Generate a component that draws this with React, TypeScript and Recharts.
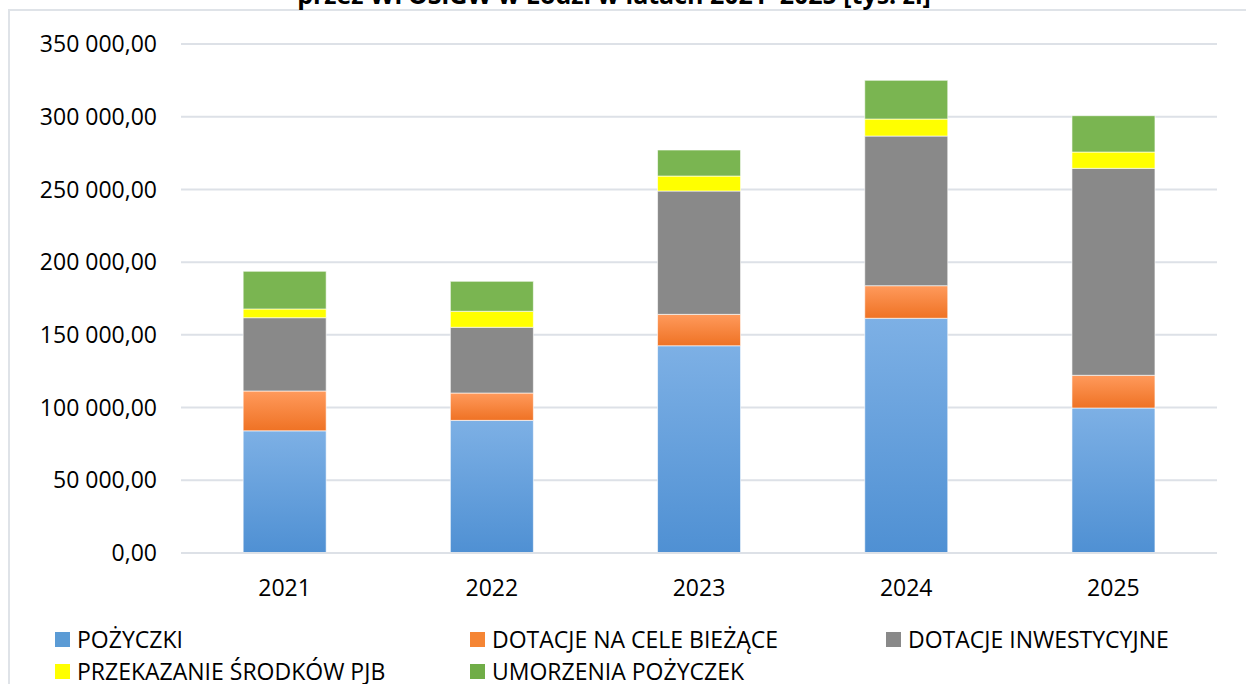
import React from 'react';
import { BarChart, Bar, XAxis, YAxis, CartesianGrid } from 'recharts';

const years = ['2021', '2022', '2023', '2024', '2025'];
const pozyczki = [84000, 91200, 142500, 161400, 99700];
const dotacjeBiezace = [27400, 18800, 21600, 22400, 22500];
const dotacjeInwestycyjne = [50400, 45200, 84800, 102900, 142300];
const przekazaniePjb = [6000, 11000, 10300, 11700, 11200];
const umorzenia = [25900, 20600, 17900, 26600, 25000];
const yTicks = [0, 50000, 100000, 150000, 200000, 250000, 300000, 350000];

const series = [
  { key: 'pozyczki', name: 'POŻYCZKI', fill: 'url(#gBlue)', swatch: '#5b9bd5' },
  { key: 'biezace', name: 'DOTACJE NA CELE BIEŻĄCE', fill: 'url(#gOrange)', swatch: '#f58534' },
  { key: 'inwest', name: 'DOTACJE INWESTYCYJNE', fill: '#898989', swatch: '#898989' },
  { key: 'pjb', name: 'PRZEKAZANIE ŚRODKÓW PJB', fill: '#ffff00', swatch: '#ffff00' },
  { key: 'umorzenia', name: 'UMORZENIA POŻYCZEK', fill: '#7ab551', swatch: '#70ad47' },
];

const data = years.map((year, i) => ({
  year,
  pozyczki: pozyczki[i],
  biezace: dotacjeBiezace[i],
  inwest: dotacjeInwestycyjne[i],
  pjb: przekazaniePjb[i],
  umorzenia: umorzenia[i],
}));

// "350 000,00" style
const fmt = (v: number) => {
  const [int, dec] = v.toFixed(2).split('.');
  return int.replace(/\B(?=(\d{3})+(?!\d))/g, ' ') + ',' + dec;
};

const FONT = '"Open Sans", sans-serif';

export default function App() {
  return (
    <div
      style={{
        position: 'absolute',
        left: 0,
        top: 0,
        width: 1246,
        height: 684,
        overflow: 'hidden',
        background: '#fff',
        fontFamily: FONT,
      }}
    >
      {/* frame of the chart area, cut off at right and bottom */}
      <div
        style={{
          position: 'absolute',
          left: 8,
          top: 9,
          width: 1300,
          height: 700,
          borderLeft: '2px solid #dfe3e8',
          borderTop: '2px solid #dfe3e8',
        }}
      />
      <svg width={1246} height={20} style={{ position: 'absolute', left: 0, top: 0 }}>
        <text x={614} y={4} textAnchor="middle" fontSize={25} fontWeight="bold" fontFamily={FONT} fill="#000">
          przez WFOŚiGW w Łodzi w latach 2021–2025 [tys. zł]
        </text>
      </svg>
      <div style={{ position: 'absolute', left: 0, top: 0 }}>
        <BarChart
          width={1246}
          height={684}
          data={data}
          margin={{ top: 44, right: 29, bottom: 101, left: 0 }}
          barCategoryGap="30%"
        >
          <defs>
            <linearGradient id="gBlue" x1="0" y1="0" x2="0" y2="1">
              <stop offset="0%" stopColor="#7db0e5" />
              <stop offset="100%" stopColor="#4f90d3" />
            </linearGradient>
            <linearGradient id="gOrange" x1="0" y1="0" x2="0" y2="1">
              <stop offset="0%" stopColor="#ff9a5c" />
              <stop offset="100%" stopColor="#ef7224" />
            </linearGradient>
          </defs>
          <CartesianGrid vertical={false} stroke="#dde1e7" strokeWidth={2} />
          <XAxis
            dataKey="year"
            axisLine={{ stroke: '#dde1e7', strokeWidth: 2 }}
            tickLine={false}
            tickSize={6}
            tickMargin={21}
            height={30}
            tick={{ fill: '#000', fontSize: 23, fontFamily: FONT }}
          />
          <YAxis
            width={181}
            domain={[0, 350000]}
            ticks={yTicks}
            interval={0}
            axisLine={false}
            tickLine={false}
            tickSize={6}
            tickMargin={18}
            tickFormatter={fmt}
            tick={{ fill: '#000', fontSize: 23, fontFamily: FONT }}
          />
          {series.map(s => (
            <Bar
              key={s.key}
              dataKey={s.key}
              name={s.name}
              stackId="a"
              fill={s.fill}
              stroke="#ffffff"
              strokeOpacity={0.6}
              strokeWidth={1}
              isAnimationActive={false}
            />
          ))}
        </BarChart>
      </div>
      {/* legend */}
      <div
        style={{
          position: 'absolute',
          left: 55,
          top: 628,
          width: 1200,
          display: 'grid',
          gridTemplateColumns: '415px 416px 400px',
          rowGap: 10,
          fontSize: 23,
          color: '#000',
          lineHeight: '22px',
        }}
      >
        {series.map(s => (
          <div key={s.key} style={{ display: 'flex', alignItems: 'center', whiteSpace: 'nowrap', height: 22 }}>
            <span style={{ width: 15, height: 15, background: s.swatch, marginRight: 7, display: 'inline-block' }} />
            <span>{s.name}</span>
          </div>
        ))}
      </div>
    </div>
  );
}
